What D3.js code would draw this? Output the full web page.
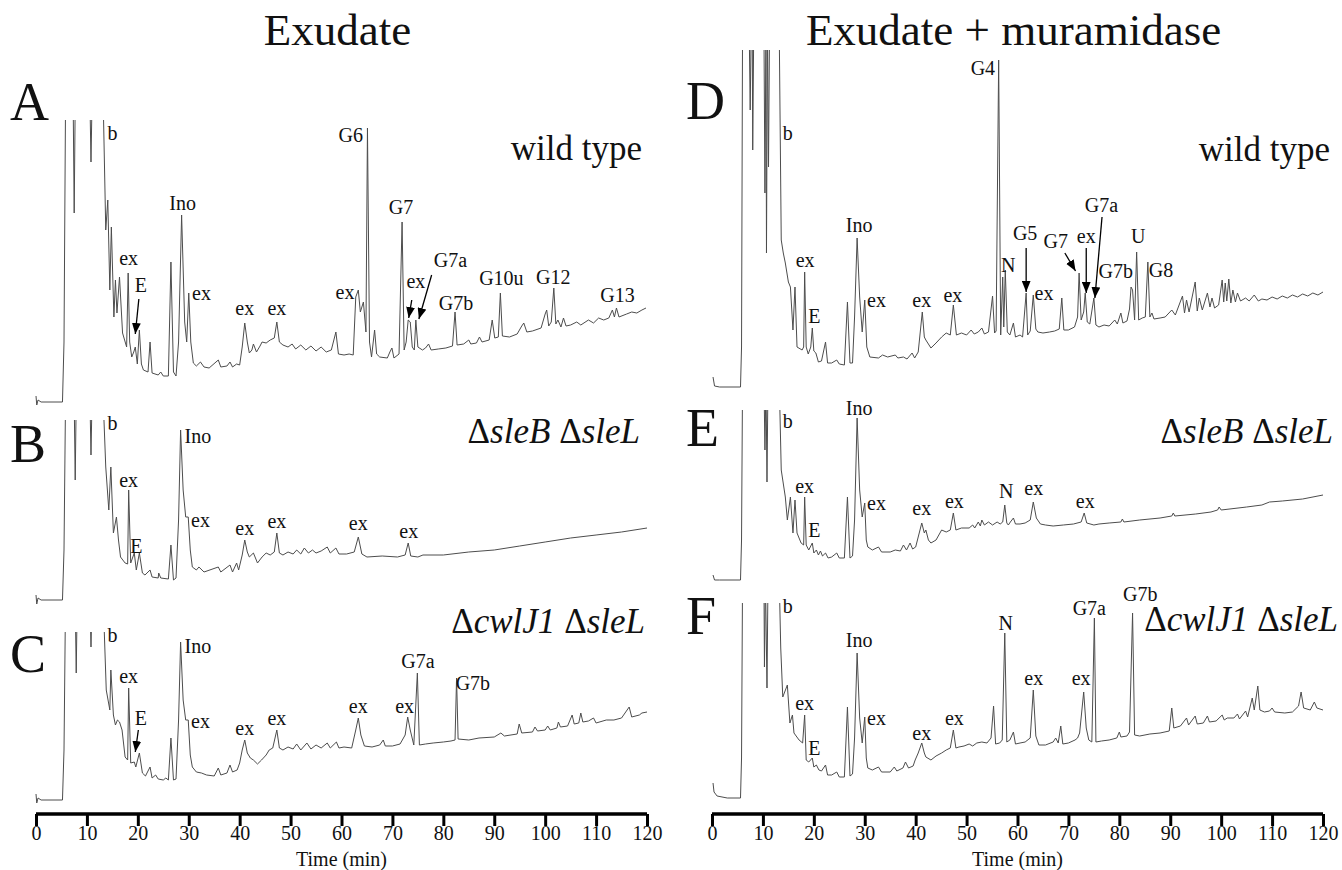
<!DOCTYPE html>
<html>
<head>
<meta charset="utf-8">
<script src="https://cdn.jsdelivr.net/npm/d3@7"></script>
<style>
  body { margin: 0; background: #fff; }
  text { font-family: "Liberation Serif", "Times New Roman", serif; fill: #111; }
</style>
</head>
<body>
<svg id="fig" width="1342" height="870"></svg>
<script>
// retention time ticks (min)
const timeTicks = [0, 10, 20, 30, 40, 50, 60, 70, 80, 90, 100, 110, 120];

// traces: [time (min), absorbance (arbitrary units)]
const traceA = [[0,6],[0.15,-3],[0.4,2],[1,0],[5.2,0],[5.5,60],[5.8,300],[7.3,300],[7.5,189],[7.7,300],[10.6,300],[10.8,240],[11.0,300],[13.2,300],[13.7,172],[14.1,202],[14.5,112],[14.8,175],[15.3,85],[15.6,122],[15.9,89],[16.4,125],[17.0,69],[17.8,55],[18.1,129],[18.4,60],[18.8,45],[19.2,50],[19.5,55],[19.9,38],[20.3,72],[20.7,38],[21.1,32],[22.0,30],[22.4,60],[22.8,29],[24,27],[24.5,30],[25,26],[26.0,26],[26.5,140],[27.0,30],[27.5,26],[28.0,60],[28.6,187],[29.2,80],[29.6,60],[30.0,109],[30.4,60],[30.9,39],[31.5,36],[32.3,40],[33,35],[34,34],[35.8,42],[36.3,35],[37.5,36],[38.1,40],[38.6,35],[39.4,38],[40.0,37],[40.5,55],[41.0,79],[41.5,60],[41.9,49],[42.4,52],[42.7,58],[43.3,50],[44.0,56],[44.4,60],[45.2,59],[46.0,62],[46.8,64],[47.3,80],[47.8,60],[48.5,57],[49.5,55],[50.3,58],[51,53],[52,57],[53,52],[54,56],[55,51],[56,55],[57,50],[58.0,52],[58.9,70],[59.4,48],[60.5,47],[61.5,48],[62.3,47],[62.8,105],[63.3,112],[63.7,90],[64.3,100],[64.8,70],[65.1,274],[65.5,60],[65.9,45],[66.5,72],[66.9,48],[67.5,45],[69.0,44],[69.5,50],[69.9,54],[70.3,44],[71.3,48],[71.9,180],[72.3,52],[72.7,60],[73.1,82],[73.5,80],[73.9,55],[74.3,52],[74.6,82],[75.0,55],[75.9,52],[76.5,54],[77.1,58],[77.6,52],[79,53],[80.5,54],[81.8,56],[82.3,90],[82.7,57],[84,58],[85.0,62],[85.4,58],[86.5,59],[87.1,65],[87.6,60],[89.0,62],[89.6,82],[90.1,64],[90.8,65],[91.2,109],[91.6,66],[93,65],[94.5,68],[95.4,76],[95.8,79],[96.4,70],[97.5,71],[99.2,74],[100.0,88],[100.3,92],[100.7,76],[101.2,80],[101.7,114],[102.1,78],[102.5,82],[103.1,75],[103.6,84],[104.1,76],[105,77],[106.2,80],[107,77],[108.5,82],[109.5,79],[110.5,84],[111.5,82],[112.5,84],[113.2,92],[113.6,85],[114.0,94],[114.5,85],[116,88],[117,90],[118,89],[119,92],[119.8,94]];

const traceB = [[0,5],[0.15,-4],[0.4,2],[1,0],[5.2,0],[5.5,50],[5.8,200],[7.5,200],[7.7,120],[7.9,200],[10.6,200],[10.8,145],[11.0,200],[13.2,200],[13.7,133],[14.3,90],[14.7,133],[15.2,67],[15.8,83],[16.2,60],[16.6,43],[17.5,37],[18.0,36],[18.2,110],[18.6,37],[19.3,47],[19.7,30],[20.3,47],[20.9,27],[21.4,25],[22.4,30],[22.8,23],[24,22],[24.1,27],[24.5,22],[26.0,21],[26.5,55],[27.0,20],[27.5,22],[28.0,80],[28.4,170],[28.9,110],[29.4,83],[29.9,83],[30.3,50],[30.7,33],[31.5,30],[32.0,33],[33,28],[35.8,33],[36.3,28],[38.1,35],[38.6,28],[39.4,37],[39.8,30],[40.5,45],[41.0,60],[41.5,48],[41.9,43],[42.7,47],[43.5,37],[44.4,43],[45.2,47],[46.0,45],[46.8,48],[47.3,67],[47.8,47],[48.5,45],[49.5,48],[50.5,46],[51.2,50],[52.0,46],[52.7,52],[53.5,47],[54.3,50],[55,47],[56,49],[57.2,53],[57.8,47],[58.9,52],[59.5,46],[61,46],[62.5,48],[63.3,63],[64.0,46],[65,43],[68,44],[71,43],[72.5,45],[73.1,57],[73.6,44],[75,43],[76,45],[80,45],[85,48],[90,50],[95,54],[100,58],[105,62],[110,65],[115,68],[120,72]];

const traceC = [[0,6],[0.15,-3],[0.4,2],[1,0],[5.2,0],[5.5,50],[5.8,200],[7.7,200],[7.9,127],[8.1,200],[10.6,200],[10.8,153],[11.0,200],[13.2,200],[13.8,110],[14.5,90],[14.7,130],[15.2,85],[15.6,75],[16.0,80],[16.4,78],[16.9,70],[17.5,43],[18.0,40],[18.2,112],[18.6,37],[19.3,38],[19.6,33],[20.3,47],[20.9,27],[21.5,24],[22.4,33],[22.8,22],[23.5,25],[24,21],[25,20],[25.5,22],[26.0,20],[26.5,62],[27.0,20],[27.5,21],[28.0,80],[28.4,158],[28.9,100],[29.4,80],[29.9,80],[30.3,45],[30.7,33],[31.5,28],[32.5,27],[33.5,25],[35.0,24],[35.8,32],[36.3,25],[37.5,27],[38.1,35],[38.6,28],[39.5,30],[40.0,37],[40.5,50],[41.0,60],[41.5,47],[42.1,42],[42.7,40],[43.5,36],[44.3,40],[45.2,45],[45.8,50],[46.5,52],[47.3,70],[47.8,52],[48.5,50],[49.5,53],[50.5,51],[51.2,56],[52,50],[53.2,57],[54,51],[55,55],[56,52],[57.2,57],[57.8,52],[59,58],[59.5,52],[60.5,53],[62,52],[62.8,70],[63.3,82],[63.8,65],[64.5,54],[66,53],[67.5,55],[68.2,60],[68.6,54],[70,54],[71.5,56],[72.5,65],[73.0,83],[73.5,70],[74.2,55],[74.9,127],[75.3,55],[76.5,56],[78,57],[80,58],[81.5,59],[82.3,60],[82.6,122],[82.9,61],[85,60],[87,62],[90,63],[91.3,67],[92,64],[94.5,66],[94.9,76],[95.4,67],[97.5,68],[98.0,73],[98.5,69],[100,70],[100.5,74],[101,70],[102.3,72],[102.6,78],[103,73],[104.4,74],[105.3,85],[105.7,76],[106.6,77],[107.0,87],[107.4,78],[108.5,79],[109.5,82],[110,77],[112,80],[113.5,80],[115,82],[116.5,93],[117,83],[118.5,85],[119,87],[120,88]];

const traceD = [[0.2,10],[0.5,1],[1.5,0],[5.6,0],[5.8,40],[6.0,360],[7.3,360],[7.5,277],[7.7,360],[7.9,360],[8.0,237],[8.2,360],[10.2,360],[10.4,194],[10.6,360],[10.7,134],[10.9,360],[11.1,220],[11.3,360],[13.2,360],[13.6,147],[14.0,134],[14.4,124],[15.0,105],[15.4,100],[15.9,57],[16.3,100],[16.7,40],[17.7,37],[18.0,40],[18.2,115],[18.5,40],[18.9,33],[19.4,40],[19.7,59],[20.0,36],[20.4,34],[20.9,25],[21.5,26],[22.3,45],[22.7,24],[23.5,24],[24.5,27],[25,23],[26.0,22],[26.6,85],[27.1,24],[27.6,24],[28.0,70],[28.5,149],[29.0,90],[29.5,55],[30.0,87],[30.4,40],[31.0,30],[32.7,29],[33.5,32],[34.5,30],[36.0,32],[36.5,29],[37.6,30],[38.3,28],[39.3,34],[39.8,29],[40.5,35],[41.3,75],[41.7,50],[42.0,47],[43.0,39],[44,44],[45.1,50],[46.0,54],[46.8,52],[47.4,82],[48.0,52],[49,54],[50.0,52],[50.9,57],[51.5,53],[52.3,55],[53.0,59],[53.5,53],[54.3,55],[55.1,91],[55.5,54],[55.8,56],[56.3,327],[56.7,52],[57.1,110],[57.3,60],[57.6,117],[58.0,55],[58.5,52],[59.2,64],[59.6,50],[60.5,52],[61.0,50],[61.7,94],[62.0,52],[62.5,56],[63.1,92],[63.6,58],[64.0,55],[65,54],[66.3,55],[67.3,56],[68.2,58],[68.7,89],[69.1,57],[70,57],[71.2,60],[71.8,70],[72.1,114],[72.5,67],[73.0,75],[73.3,94],[73.7,65],[74.2,63],[75.0,89],[75.4,62],[76,60],[77,62],[78,61],[79.1,67],[79.6,63],[80.3,74],[80.7,64],[81.5,66],[82.0,78],[82.3,100],[82.6,97],[83.0,67],[83.4,135],[83.8,67],[84.5,69],[85.1,70],[85.6,125],[86.0,70],[86.4,74],[86.8,68],[88,69],[89,70],[90.3,77],[91,72],[92.4,91],[92.8,74],[93.2,87],[93.7,75],[94.9,105],[95.3,76],[95.7,89],[96.3,77],[97.3,94],[97.8,80],[98.2,89],[98.7,79],[99.5,82],[100.2,107],[100.5,85],[100.8,104],[101.1,86],[101.5,108],[101.9,84],[102.3,97],[102.8,85],[103.2,94],[103.8,86],[104.8,89],[105.5,86],[106.5,92],[107.3,86],[108,88],[109,87],[110,90],[111,88],[112,91],[113,89],[114,92],[115,90],[116,93],[117,91],[118,94],[119,92],[120,95]];

const traceE = [[0.2,5],[0.5,0],[1.5,0],[5.6,0],[5.8,40],[6.0,200],[10.2,200],[10.4,130],[10.6,200],[10.8,98],[11.0,200],[13.2,200],[13.6,110],[14.4,83],[14.8,60],[15.4,83],[15.9,47],[16.3,80],[16.7,47],[17.5,37],[18.0,35],[18.2,83],[18.5,35],[19.0,30],[19.7,37],[20.0,27],[20.5,30],[20.9,25],[21.3,29],[21.7,24],[22.3,27],[22.8,22],[23.5,23],[24.5,27],[25,22],[26.0,22],[26.6,83],[27.1,22],[27.6,24],[28.0,60],[28.5,162],[29.0,90],[29.5,63],[30.0,77],[30.3,40],[30.6,33],[31.5,30],[32.7,33],[33.3,28],[35,28],[36.0,30],[37,29],[37.6,35],[38.2,30],[38.9,37],[39.4,31],[40.0,33],[40.5,43],[41.2,57],[41.7,47],[42.0,50],[42.5,40],[43.0,37],[44,40],[45.1,50],[46,48],[46.8,50],[47.4,67],[47.9,50],[49,52],[50.5,52],[51.2,55],[51.6,52],[52.3,58],[52.7,54],[53.0,60],[53.5,55],[54.3,58],[55.1,55],[56,58],[56.6,56],[57.1,58],[57.5,75],[57.9,57],[58.2,55],[58.6,58],[59.2,62],[59.6,56],[60.5,56],[61.5,57],[62.5,60],[63.1,78],[63.7,62],[64.5,56],[65.5,55],[67,54],[69,55],[71,56],[72.5,58],[73.1,67],[73.6,57],[75,55],[76,56],[78,57],[80.3,58],[80.6,61],[80.9,58],[84,60],[88,62],[90.3,64],[90.6,67],[90.9,64],[95,66],[98,68],[99.3,70],[99.6,73],[100,70],[105,73],[108,75],[109.5,78],[112,79],[116,81],[120,85]];

const traceF = [[0.2,15],[0.4,6],[1,2],[3,0],[5.6,0],[5.8,40],[6.0,220],[10.2,220],[10.3,131],[10.5,220],[10.8,110],[11.0,220],[13.2,220],[13.5,150],[13.9,101],[14.8,113],[15.3,75],[15.8,83],[16.1,65],[17.1,58],[17.8,55],[18.2,83],[18.5,38],[19.0,36],[19.7,40],[20.0,31],[20.5,33],[21.0,28],[21.5,27],[22.3,33],[22.7,23],[23.5,23],[24.5,26],[25,21],[26.0,21],[26.6,91],[27.1,22],[27.6,24],[28.0,60],[28.5,145],[29.0,80],[29.5,55],[30.0,81],[30.3,40],[30.6,30],[31.5,28],[32.7,31],[33.3,26],[35,26],[35.8,31],[36.3,27],[37.5,30],[38.0,36],[38.6,30],[39.5,32],[39.9,38],[40.5,45],[41.2,55],[41.7,45],[42.0,41],[43.0,38],[44,42],[45.1,45],[46,48],[46.8,50],[47.4,68],[47.9,50],[48.5,51],[49.5,52],[50.5,54],[51.2,52],[52,55],[53.0,56],[54,55],[54.8,60],[55.3,92],[55.7,54],[56.5,55],[57.0,58],[57.5,165],[57.9,56],[58.5,58],[59.2,66],[59.6,54],[60.5,55],[61.5,56],[62.5,60],[63.1,108],[63.6,62],[64.2,53],[65.5,53],[67,56],[67.5,60],[68.0,55],[68.5,72],[68.9,54],[70,55],[71.3,58],[71.8,60],[72.2,65],[73.0,106],[73.5,70],[74.0,58],[74.6,56],[75.1,180],[75.4,56],[76.5,57],[78,58],[79.5,60],[80.0,66],[80.3,61],[81.5,62],[82.0,66],[82.6,185],[83.0,63],[84,62],[86,64],[88,65],[89.8,67],[90.3,90],[90.7,70],[92,72],[93.2,80],[93.6,73],[94.9,82],[95.3,74],[96.5,75],[97.3,82],[97.7,76],[99,77],[100.2,83],[100.6,78],[101.2,80],[102.5,80],[103.2,84],[103.6,79],[104.8,87],[105.2,81],[106.1,100],[106.5,88],[107.2,112],[107.6,88],[108.5,86],[109.5,87],[110.0,90],[110.5,86],[112.5,85],[114,86],[115.2,92],[115.7,106],[116.2,90],[117.5,88],[118.3,96],[118.8,90],[120,88]];

// peak annotations: [label, time, height]
const peaksA = [["b",15.0,262],["ex",18.2,137],["E",20.6,110],["Ino",28.8,192],["ex",32.5,102],["ex",41.0,87],["ex",47.3,87],["ex",60.7,103],["G6",61.8,260],["G7",71.7,188],["ex",74.6,114],["G7a",81.4,135],["G7b",82.5,92],["G10u",91.4,117],["G12",101.6,118],["G13",114.2,100]];
const peaksB = [["b",15.0,170],["ex",18.2,113],["E",19.7,47],["Ino",31.8,157],["ex",32.3,73],["ex",41.0,65],["ex",47.3,72],["ex",63.3,70],["ex",73.2,62]];
const peaksC = [["b",15.0,158],["ex",18.2,117],["E",20.6,75],["Ino",31.8,147],["ex",32.3,72],["ex",41.0,65],["ex",47.3,75],["ex",63.3,87],["ex",72.4,87],["G7a",75.0,132],["G7b",85.8,110]];
const peaksD = [["b",14.9,247],["ex",18.3,120],["E",20.1,64],["Ino",28.9,155],["ex",32.3,80],["ex",41.2,80],["ex",47.3,85],["G4",53.2,312],["N",58.2,115],["G5",61.5,147],["ex",65.2,87],["G7",67.5,139],["ex",73.5,144],["G7a",76.5,175],["G7b",79.3,109],["U",83.7,144],["G8",88.2,110]];
const peaksE = [["b",14.9,152],["ex",18.2,87],["E",20.1,43],["Ino",28.9,165],["ex",32.3,70],["ex",41.2,65],["ex",47.6,72],["N",57.8,82],["ex",63.2,85],["ex",73.3,72]];
const peaksF = [["b",14.9,185],["ex",18.2,88],["E",20.1,43],["Ino",28.9,151],["ex",32.3,73],["ex",41.2,58],["ex",47.6,73],["N",57.7,168],["ex",63.2,113],["ex",72.5,113],["G7a",74.1,183],["G7b",84.1,197]];

// arrows: [fromTime, fromHeight, toTime, toHeight]
const arrowsA = [[20.2,103,19.5,68],[73.8,102,73.2,84],[77.7,127,75.2,83]];
const arrowsC = [[20.1,70,19.5,48]];
const arrowsD = [[61.7,139,61.7,95],[69.3,134,71.4,116],[73.5,139,73.5,94],[76.6,170,75.2,89]];

const strains = {
  wt: [["", "wild type"]],
  sleBsleL: [["\u0394", "sleB"], [" \u0394", "sleL"]],
  cwlJ1sleL: [["\u0394", "cwlJ1"], [" \u0394", "sleL"]]
};

const columns = [
  { title: "Exudate", x0: 36, x1: 647 },
  { title: "Exudate + muramidase", x0: 712, x1: 1323 }
];

const panels = [
  { letter: "A", col: 0, trace: traceA, peaks: peaksA, arrows: arrowsA, strain: strains.wt, top: 120, base: 402, letterY: 120, nameX: 642, nameY: 160 },
  { letter: "B", col: 0, trace: traceB, peaks: peaksB, arrows: [], strain: strains.sleBsleL, top: 420, base: 600, letterY: 462, nameX: 640, nameY: 443 },
  { letter: "C", col: 0, trace: traceC, peaks: peaksC, arrows: arrowsC, strain: strains.cwlJ1sleL, top: 632, base: 800, letterY: 672, nameX: 645, nameY: 633 },
  { letter: "D", col: 1, trace: traceD, peaks: peaksD, arrows: arrowsD, strain: strains.wt, top: 50, base: 387, letterY: 119, nameX: 1330, nameY: 161 },
  { letter: "E", col: 1, trace: traceE, peaks: peaksE, arrows: [], strain: strains.sleBsleL, top: 410, base: 580, letterY: 446, nameX: 1333, nameY: 443 },
  { letter: "F", col: 1, trace: traceF, peaks: peaksF, arrows: [], strain: strains.cwlJ1sleL, top: 603, base: 798, letterY: 634, nameX: 1338, nameY: 631 }
];

const svg = d3.select("#fig");

svg.append("defs").append("marker")
  .attr("id", "head")
  .attr("viewBox", "0 0 10 8")
  .attr("refX", 10).attr("refY", 4)
  .attr("markerWidth", 11).attr("markerHeight", 9)
  .attr("markerUnits", "userSpaceOnUse")
  .attr("orient", "auto")
  .append("path").attr("d", "M0,0L10,4L0,8Z").attr("fill", "#000");

// column titles and time axes
columns.forEach((c, i) => {
  const x = d3.scaleLinear().domain([0, 120]).range([c.x0, c.x1]);
  c.x = x;

  svg.append("text")
    .attr("x", (c.x0 + c.x1) / 2 - 4).attr("y", 45)
    .attr("text-anchor", "middle")
    .attr("font-size", 45)
    .text(c.title);

  const axis = svg.append("g").attr("transform", "translate(0,814)")
    .call(d3.axisBottom(x).tickValues(timeTicks).tickSize(12).tickPadding(0).tickFormat(d3.format("d")));
  axis.select(".domain").attr("stroke", "#000").attr("stroke-width", 3.5).attr("d", `M${c.x0},0H${c.x1}`);
  axis.selectAll(".tick line").attr("stroke", "#000").attr("stroke-width", 3);
  axis.selectAll(".tick text").attr("font-size", 20).attr("fill", "#111");

  svg.append("text")
    .attr("x", (c.x0 + c.x1) / 2).attr("y", 866)
    .attr("text-anchor", "middle")
    .attr("font-size", 20)
    .text("Time (min)");
});

// chromatogram panels
panels.forEach((p, i) => {
  const col = columns[p.col];
  const x = col.x;
  const y = d3.scaleLinear().domain([0, p.base - p.top]).range([p.base, p.top]);

  svg.append("clipPath").attr("id", "clip" + i)
    .append("rect")
    .attr("x", col.x0 - 5).attr("y", p.top)
    .attr("width", col.x1 - col.x0 + 10).attr("height", p.base - p.top + 30);

  svg.append("path")
    .datum(p.trace)
    .attr("clip-path", `url(#clip${i})`)
    .attr("fill", "none")
    .attr("stroke", "#4d4d4d")
    .attr("stroke-width", 1)
    .attr("stroke-linejoin", "round")
    .attr("d", d3.line().x(d => x(d[0])).y(d => y(d[1])));

  svg.append("text")
    .attr("x", col.x0 - 26).attr("y", p.letterY)
    .attr("font-size", 54)
    .text(p.letter);

  const name = svg.append("text")
    .attr("x", p.nameX).attr("y", p.nameY)
    .attr("text-anchor", "end")
    .attr("font-size", 35);
  p.strain.forEach(([plain, ital]) => {
    if (plain) name.append("tspan").text(plain);
    name.append("tspan").attr("font-style", p.letter === "A" || p.letter === "D" ? "normal" : "italic").text(ital);
  });

  svg.append("g").selectAll("text")
    .data(p.peaks)
    .join("text")
    .attr("x", d => x(d[1]))
    .attr("y", d => y(d[2]))
    .attr("text-anchor", "middle")
    .attr("font-size", 20)
    .text(d => d[0]);

  svg.append("g").selectAll("line")
    .data(p.arrows)
    .join("line")
    .attr("x1", d => x(d[0])).attr("y1", d => y(d[1]))
    .attr("x2", d => x(d[2])).attr("y2", d => y(d[3]))
    .attr("stroke", "#000").attr("stroke-width", 1.3)
    .attr("marker-end", "url(#head)");
});
</script>
</body>
</html>
